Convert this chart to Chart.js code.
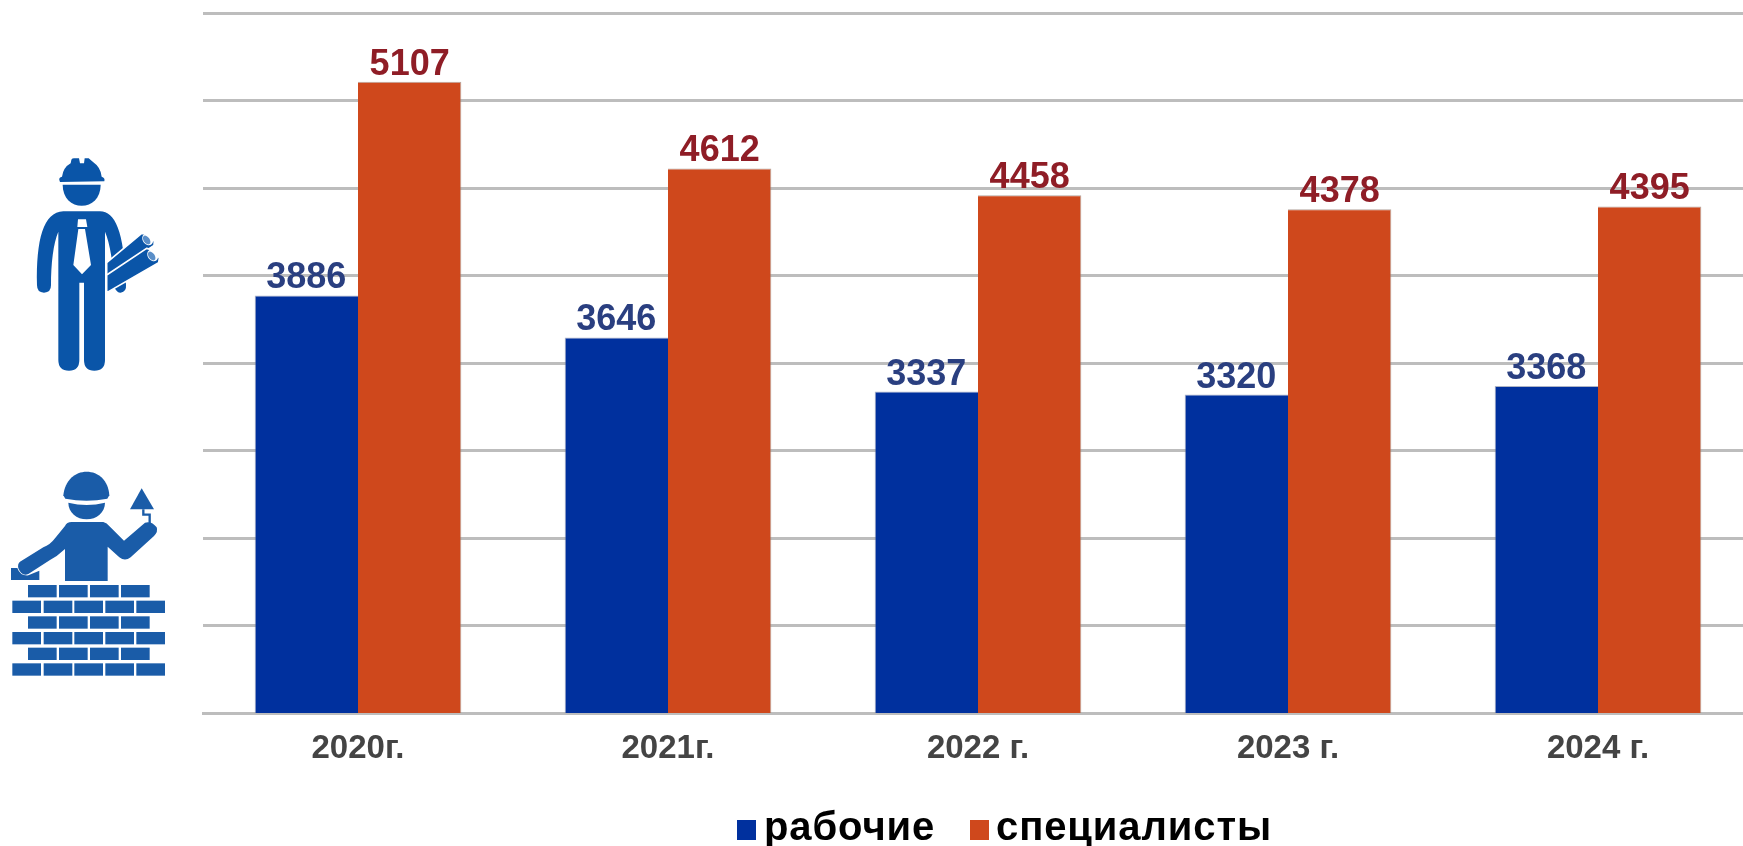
<!DOCTYPE html>
<html lang="ru"><head><meta charset="utf-8">
<script src="https://cdn.jsdelivr.net/npm/chart.js@4"></script>
<style>
html,body{margin:0;padding:0;background:#fff;width:1743px;height:846px;overflow:hidden}
#wrap{position:relative;width:1743px;height:846px;overflow:hidden}
canvas{position:absolute;left:0;top:0;filter:blur(.6px)}
svg{position:absolute;left:0;width:200px;height:250px;filter:blur(.4px)}
</style></head><body>
<div id="wrap">
<canvas id="c" width="1760" height="846" style="width:1760px;height:846px"></canvas>
<svg style="top:130px" viewBox="0 0 600 750">
 <g fill="#0a55a8" stroke="none">
  <path d="M178 150 Q176 143 186 140 Q190 112 212 100 L214 90 Q214 84 224 85 L237 85 L240 100 L252 100 L254 85 L266 85 L280 97 Q302 112 305 140 Q316 143 313 154 L180 156 Z"/>
  <path d="M188 164 H302 C302 205 275 227 245 227 C215 227 188 205 188 164Z"/>
  <path d="M111 466 Q111 488 132 488 Q153 488 153 466 C153 400 160 340 175 305 L175 690 Q175 722 207 722 Q238 722 238 690 L238 458 H252 V690 Q252 722 283 722 Q315 722 315 690 L315 305 C330 340 340 400 342 470 Q350 488 362 488 Q380 485 378 465 C372 300 345 246 300 244 H190 C130 246 108 330 111 466Z"/>
 </g>
 <path fill="#fff" d="M234 268 H258 L262 291 H232Z M235 297 H255 L273 405 L246 433 L220 405Z"/>
 <path fill="#0a55a8" stroke="#fff" stroke-width="5" d="M320 398 L425 310 Q455 312 463 335 L462 346 L320 440Z"/>
 <path fill="#0a55a8" stroke="#fff" stroke-width="5" d="M320 435 L440 355 Q470 360 478 385 L476 398 L320 488Z"/>
 <ellipse cx="443" cy="328" rx="15" ry="19" transform="rotate(-35 443 328)" fill="#fff"/>
 <ellipse cx="458" cy="376" rx="15" ry="19" transform="rotate(-35 458 376)" fill="#fff"/>
 <ellipse cx="440" cy="330" rx="9" ry="15" transform="rotate(-35 440 330)" fill="#5a8ec8"/>
 <ellipse cx="455" cy="378" rx="9" ry="15" transform="rotate(-35 455 378)" fill="#5a8ec8"/>
</svg>
<svg id="mason" style="top:450px" viewBox="0 0 600 750">
 <g fill="#1a5ca8">
  <path d="M190 136 C195 90 225 65 260 65 C295 65 325 90 328 136 L322 146 Q260 158 196 146Z"/>
  <path d="M205 158 Q260 172 315 158 C315 187 290 208 260 208 C230 208 205 187 205 158Z"/>
  <path d="M60 335 L130 292 Q150 285 165 265 L195 228 Q200 216 215 216 H310 Q320 218 330 230 L372 272 L435 218 Q455 212 470 232 Q475 245 462 258 L392 322 Q375 335 358 322 L323 290 V393 H195 V297 L170 318 L150 330 L85 372 Q65 380 55 355 Q52 342 60 335Z"/>
  <path d="M33 354 H52 Q60 378 85 376 L118 362 V390 H33Z"/>
  <path d="M425 115 L462 178 H390Z"/>
 </g>
 <path fill="none" stroke="#1a5ca8" stroke-width="7" d="M430 178 V194 H449 V222"/>
 <g id="bricks" fill="#1a5ca8"></g>
</svg>
</div>
<script>
const categories = ['2020г.', '2021г.', '2022 г.', '2023 г.', '2024 г.'];
const workers = [3886, 3646, 3337, 3320, 3368];
const specialists = [5107, 4612, 4458, 4378, 4395];
const seriesNames = ['рабочие', 'специалисты'];

// mason icon's brick wall
const NS = 'http://www.w3.org/2000/svg', wall = document.getElementById('bricks');
const oddRow = [84, 177, 270, 363], evenRow = [37, 131, 223, 316, 409];
[405, 452, 499, 546, 593, 640].forEach((y, i) => (i % 2 ? evenRow : oddRow).forEach(x => {
  const r = document.createElementNS(NS, 'rect');
  r.setAttribute('x', x); r.setAttribute('y', y); r.setAttribute('width', 86); r.setAttribute('height', 37);
  wall.appendChild(r);
}));

const valueLabels = {
  id: 'valueLabels',
  afterDatasetsDraw(chart) {
    const ctx = chart.ctx;
    const colors = ['#2a3f80', '#8f1d26'];
    ctx.save();
    ctx.font = 'bold 36px "Liberation Sans"';
    ctx.textAlign = 'center';
    ctx.textBaseline = 'alphabetic';
    chart.data.datasets.forEach((ds, i) => {
      ctx.fillStyle = colors[i];
      chart.getDatasetMeta(i).data.forEach((bar, j) => ctx.fillText(ds.data[j], bar.x, bar.y - 7));
    });
    ctx.restore();
  }
};

// Legend placed like the reference: tight key-to-text gap and tracked lettering
const legendKeys = {
  id: 'legendKeys',
  afterDraw(chart) {
    const ctx = chart.ctx;
    const slots = [{ box: 737, text: 764 }, { box: 970, text: 996 }];
    ctx.save();
    ctx.font = 'bold 40px "Liberation Sans"';
    ctx.letterSpacing = '0.9px';
    ctx.textAlign = 'left';
    ctx.textBaseline = 'alphabetic';
    chart.data.datasets.forEach((ds, i) => {
      ctx.fillStyle = ds.backgroundColor;
      ctx.fillRect(slots[i].box, 820, 19, 20);
      ctx.fillStyle = '#000';
      ctx.fillText(ds.label, slots[i].text, 840);
    });
    ctx.restore();
  }
};

new Chart(document.getElementById('c'), {
  type: 'bar',
  data: {
    labels: categories,
    datasets: [
      { label: seriesNames[0], data: workers, backgroundColor: '#00309e', borderColor: 'rgba(120,130,160,.6)', borderWidth: {top:1,left:1,right:0,bottom:0} },
      { label: seriesNames[1], data: specialists, backgroundColor: '#cf481c', borderColor: 'rgba(150,130,120,.7)', borderWidth: {top:1,left:0,right:1,bottom:0} }
    ]
  },
  options: {
    responsive: false,
    animation: false,
    layout: { padding: { left: 203, right: 7, top: 13, bottom: 0 } },
    datasets: { bar: { categoryPercentage: 2/3, barPercentage: 1 } },
    scales: {
      x: {
        grid: { display: false, drawTicks: false },
        border: { color: '#bdbdbd', width: 3 },
        ticks: { color: '#444', font: { family: '"Liberation Sans"', weight: 'bold', size: 33 }, padding: 16, maxRotation: 0, autoSkip: false },
        afterFit(s) { s.height = 133; }
      },
      y: {
        min: 1500, max: 5500,
        afterFit(s) { s.width = 0; },
        ticks: { display: false, stepSize: 500 },
        grid: { color: '#bdbdbd', lineWidth: 3, drawTicks: false },
        border: { display: false }
      }
    },
    plugins: {
      legend: { display: false },
      tooltip: { enabled: false }
    }
  },
  plugins: [valueLabels, legendKeys]
});
</script>
</body></html>
